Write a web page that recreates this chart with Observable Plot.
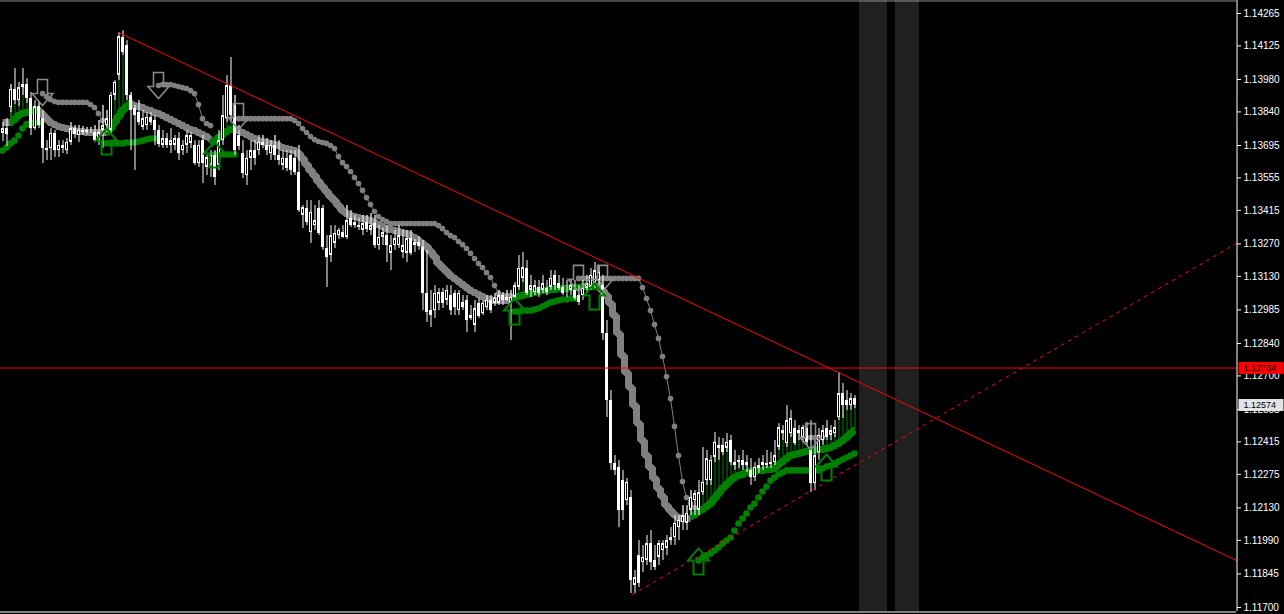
<!DOCTYPE html>
<html><head><meta charset="utf-8">
<script src="https://cdn.jsdelivr.net/npm/d3@7"></script>
<script src="https://cdn.jsdelivr.net/npm/@observablehq/plot@0.6"></script>
<style>
html,body{margin:0;padding:0;background:#000;overflow:hidden}
#chart svg{display:block}
</style></head><body><div id="chart"></div>
<script>
// Prices are stored as points above 1.10000 (1 point = 0.00001)
const BASE = 1.1, PT = 1e-5;

const open = [3747,3768,3859,3937,3889,3945,3958,3898,3768,3863,3811,3682,3682,3747,3673,3695,3673,3708,3768,3738,3760,3751,3760,3751,3716,3760,3781,3760,3911,3998,4161,4127,3911,3855,3837,3773,3781,3816,3803,3760,3695,3725,3695,3695,3725,3673,3695,3704,3695,3617,3716,3600,3609,3652,3609,3716,3811,3954,3868,3738,3660,3565,3639,3673,3673,3708,3695,3660,3695,3652,3609,3639,3652,3639,3578,3393,3423,3319,3349,3423,3423,3250,3220,3272,3306,3319,3298,3380,3362,3349,3328,3362,3328,3358,3263,3298,3306,3229,3263,3263,3233,3229,3293,3263,3276,3255,3056,2982,2982,3013,3060,3026,3047,3056,2982,3017,3026,2961,2918,3013,2969,2995,3026,3013,3013,3047,3026,3013,3039,3082,3121,3164,3069,3060,3082,3069,3078,3082,3134,3099,3082,3056,3069,3069,3047,3047,3078,3082,3099,3112,3090,2883,2594,2322,2305,2248,2162,2175,1795,1924,1894,1903,1976,1903,1916,1946,1955,1989,2002,2045,2067,2063,2119,2162,2119,2196,2248,2248,2348,2400,2400,2387,2421,2326,2326,2335,2313,2292,2261,2300,2313,2322,2317,2326,2391,2451,2408,2451,2473,2451,2430,2473,2378,2235,2369,2421,2473,2443,2451,2520,2624,2594,2572,2602];
const high = [3794,3811,3958,4027,3967,4027,3984,3924,3889,3881,3846,3716,3768,3760,3716,3716,3725,3794,3781,3781,3777,3773,3773,3781,3803,3868,3846,3924,3976,4183,4191,4148,3924,3868,3889,3846,3837,3837,3824,3781,3760,3747,3768,3738,3751,3716,3760,3751,3716,3716,3738,3652,3673,3673,3760,3911,3997,4075,3911,3781,3716,3673,3716,3716,3738,3738,3725,3716,3738,3716,3673,3673,3673,3673,3695,3436,3457,3457,3436,3457,3436,3306,3349,3349,3337,3349,3436,3414,3393,3380,3393,3393,3401,3393,3349,3337,3349,3306,3328,3349,3328,3328,3328,3289,3302,3285,3242,3069,3090,3078,3078,3090,3090,3069,3069,3047,3047,3004,3026,3035,3026,3047,3047,3056,3069,3060,3069,3069,3103,3220,3233,3198,3134,3112,3112,3134,3112,3155,3155,3134,3121,3112,3112,3112,3090,3112,3134,3164,3190,3177,3134,2939,2637,2356,2335,2292,2257,2205,1860,1989,1968,2011,2032,1968,1989,1989,2011,2045,2097,2097,2140,2140,2205,2205,2248,2391,2378,2356,2456,2434,2430,2451,2443,2378,2356,2378,2356,2343,2326,2343,2356,2378,2369,2421,2494,2486,2572,2551,2507,2486,2486,2499,2507,2421,2473,2486,2507,2486,2507,2715,2667,2637,2624,2615];
const low = [3712,3691,3837,3872,3863,3911,3876,3738,3760,3768,3617,3630,3630,3643,3643,3660,3656,3695,3725,3708,3738,3742,3747,3708,3695,3682,3751,3747,3889,3976,4084,3889,3673,3587,3781,3760,3760,3781,3695,3686,3682,3682,3660,3673,3630,3652,3660,3682,3609,3600,3531,3565,3557,3522,3587,3695,3794,3803,3652,3673,3552,3522,3587,3609,3652,3682,3652,3630,3630,3609,3587,3582,3565,3565,3406,3337,3349,3272,3328,3306,3242,3082,3190,3250,3289,3293,3289,3341,3337,3328,3306,3319,3306,3250,3242,3263,3190,3155,3242,3250,3207,3190,3220,3233,3242,2982,2931,2909,2948,2982,2991,3004,2961,2961,2961,2982,2887,2939,2887,2948,2961,2982,2969,3000,3004,3004,3021,2853,3026,3069,3103,3047,3039,3047,3039,3056,3047,3069,3069,3069,3047,3039,3047,3026,3004,3026,3056,3069,3078,3090,2853,2520,2292,2270,2045,2076,2140,1760,1760,1786,1851,1881,1860,1860,1881,1903,1924,1968,1968,1989,2032,2032,2097,2097,2097,2184,2227,2227,2326,2335,2356,2369,2313,2292,2300,2292,2283,2227,2244,2279,2292,2300,2300,2313,2378,2421,2391,2434,2400,2421,2413,2400,2197,2205,2335,2400,2421,2421,2434,2507,2516,2551,2551,2559];
const close = [3768,3742,3937,3889,3945,3958,3898,3768,3863,3781,3682,3673,3747,3673,3695,3682,3708,3768,3742,3760,3751,3760,3764,3716,3751,3781,3811,3911,3967,4165,4097,3911,3846,3824,3794,3811,3816,3794,3760,3699,3725,3695,3716,3725,3660,3695,3738,3738,3617,3695,3617,3643,3652,3557,3716,3824,3954,3824,3673,3691,3574,3639,3673,3639,3708,3695,3673,3695,3652,3630,3639,3596,3587,3578,3414,3427,3362,3406,3371,3315,3255,3211,3306,3315,3328,3298,3371,3349,3349,3341,3358,3332,3349,3263,3298,3319,3263,3263,3293,3306,3263,3293,3229,3276,3259,3056,2974,2961,3056,3060,3013,3069,2982,2995,3056,2995,2939,2948,2991,2957,3013,3026,2982,3035,3047,3026,3039,3039,3090,3164,3168,3056,3090,3090,3056,3099,3060,3121,3090,3078,3056,3060,3090,3035,3017,3078,3099,3134,3155,3147,2883,2594,2322,2292,2119,2119,2240,1817,1829,1804,1916,1976,1894,1873,1976,1976,1989,2002,2063,2076,2097,2106,2175,2192,2196,2240,2343,2335,2413,2387,2369,2413,2326,2313,2335,2313,2326,2261,2305,2313,2326,2313,2326,2356,2477,2464,2507,2516,2408,2464,2477,2413,2235,2356,2443,2464,2434,2464,2477,2624,2572,2572,2602,2574];

// Indicator lines: [first bar index, values]
const fastGray = [
  [0, [3794,3794,3794]],
  [9, [3846,3829,3811,3794,3786,3777,3773,3768,3764,3760,3755,3755,3751,3751,3751,3751,3751,3751]],
  [32, [3876,3868,3863,3859,3850,3846,3837,3833,3824,3816,3807,3799,3790,3781,3773,3764,3760,3751,3742,3734,3725]],
  [58, [3768,3760,3751,3742,3734,3725,3716,3712,3708,3704,3699,3695,3686,3682,3678,3673,3660,3639,3613,3587,3565,3539,3518,3496,3475,3457,3436,3414,3401,3393,3388,3384,3380,3375,3371,3362,3354,3345,3336,3332,3328,3324,3319,3315,3306,3298,3285,3272,3259,3237,3216,3185,3168,3151,3134,3121,3108,3095,3082,3069,3060,3052,3043,3034,3030,3026,3026,3026,3026,3026]],
  [149, [3095,3069,3047,3013,2961,2883,2788,2715,2650,2572,2495,2421,2356,2305,2257,2214,2179,2140,2119,2101,2089,2084,2084,2084]]
];
const fastGreen = [
  [2, [3794,3807,3824,3833,3837,3842,3846,3846]],
  [26, [3751,3768,3794,3820,3846,3863,3876]],
  [52, [3704,3716,3729,3742,3755,3764,3768]],
  [127, [3034,3039,3043,3047,3052,3056,3060,3065,3069,3069,3073,3073,3078,3078,3078,3082,3082,3082,3086,3086,3086,3086,3086]],
  [172, [2093,2101,2115,2123,2136,2149,2171,2192,2214,2231,2248,2261,2270,2274,2283,2287,2287,2292,2292,2296,2296,2300,2317,2330,2343,2356,2361,2365,2369,2374,2378,2378,2382,2382,2387,2391,2400,2408,2421,2434,2451,2464]]
];
const slowGray = [
  [10, [3919,3906,3894,3885,3881,3881,3881,3881,3881,3881,3881,3881,3872,3859,3833,3803]],
  [39, [3954,3958,3958,3958,3954,3950,3945,3941,3932,3919,3872,3811,3790,3781]],
  [59, [3811,3811,3811,3811,3811,3811,3811,3811,3811,3811,3811,3811,3811,3811,3803,3790,3768,3751,3734,3721,3712,3708,3704,3695,3682,3647,3621,3604,3583,3557,3531,3501,3470,3440,3410,3388,3375,3367,3358,3358,3358,3358,3358,3358,3358,3358,3358,3358,3358,3358,3349,3336,3319,3306,3298,3280,3267,3250,3229,3207,3185,3168,3146,3125,3090,3056,3047,3047,3047]],
  [144, [3121,3121,3121,3121,3121,3121,3121,3121,3121,3121,3121,3121,3121,3121,3121,3121,3082,3034,2982,2922,2862,2784,2697,2602,2482,2356,2244,2175,2149,2132]],
  [202, [2434,2434,2434,2434]]
];
const slowGreen = [
  [0, [3673,3686,3704,3716,3738,3768,3786,3790,3794,3794]],
  [26, [3704,3704,3704,3704,3704,3708,3708,3708,3712,3716,3721,3725,3725]],
  [53, [3656,3656,3656,3656,3656,3656]],
  [128, [2978,2978,2982,2982,2982,2987,2991,3000,3008,3017,3021,3026,3030,3030,3034,3034]],
  [174, [1903,1916,1925,1933,1946,1959,1976,1989,2002,2032,2063,2084,2106,2132,2149,2175,2201,2222,2248,2261,2274,2283,2292,2292,2292,2292,2292,2292]],
  [204, [2292,2300,2309,2313,2322,2330,2339,2348,2356,2365]]
];

// Signal arrows: [bar, price points]
const sellArrows = [[10,3924],[39,3954],[59,3820],[144,3121],[150,3121],[202,2438]];
const buyArrows = [[26,3712],[53,3656],[128,2978],[148,3043],[174,1899],[206,2304]];

// Drawn objects
const resistance = [[29,4183],[308.5,1903]];
const support = [[157.5,1756],[308.5,3272]];
const hLevel = 2734;     // 1.12734
const lastPrice = 2574;  // 1.12574
const sessionBands = [[214.25,221.25],[223.25,229.25]];
const yTicks = [1.14265,1.14125,1.13980,1.13840,1.13695,1.13555,1.13415,1.13270,1.13130,1.12985,1.12840,1.12700,1.12555,1.12415,1.12275,1.12130,1.11990,1.11845,1.11700];

const yDom = [1.116827, 1.143211];
const P = v => BASE + v * PT;

const bars = open.map((o, i) => ({i, o: P(o), h: P(high[i]), l: P(low[i]), c: P(close[i]), up: close[i] >= o}));
function segRows(segs, name) {
  const rows = [];
  segs.forEach(([s, vals], k) => vals.forEach((v, j) => rows.push({i: s + j, p: P(v), seg: name + k})));
  return rows;
}
const fGray = segRows(fastGray, "fg"), fGreen = segRows(fastGreen, "fG");
const sGray = segRows(slowGray, "sg"), sGreen = segRows(slowGreen, "sG");
const grayThin = fGray.filter(d => bars[d.i].h > d.p).map(d => ({i: d.i, a: d.p, b: bars[d.i].h}));
const greenThin = fGreen.filter(d => bars[d.i].c > d.p).map(d => ({i: d.i, a: d.p, b: bars[d.i].c}));

const downArrow = {draw(c){c.moveTo(-5,-13);c.lineTo(5,-13);c.lineTo(5,1);c.lineTo(10.5,1);c.lineTo(0,13);c.lineTo(-10.5,1);c.lineTo(-5,1);c.closePath();}};
const upArrow = {draw(c){c.moveTo(-5,13);c.lineTo(5,13);c.lineTo(5,-1);c.lineTo(10.5,-1);c.lineTo(0,-13);c.lineTo(-10.5,-1);c.lineTo(-5,-1);c.closePath();}};
const priceBox = {draw(c){c.moveTo(2,-6);c.lineTo(47,-6);c.lineTo(47,6);c.lineTo(2,6);c.closePath();}};

const plot = Plot.plot({
  width: 1284, height: 614,
  marginLeft: 0, marginRight: 48, marginTop: 0, marginBottom: 3,
  style: {background: "#000", color: "#fff", fontFamily: "'Liberation Sans', Arial, sans-serif", fontSize: "10px"},
  x: {domain: [-0.5, 308.5], axis: null},
  y: {domain: yDom, range: [611, 0]},
  marks: [
    Plot.rect(sessionBands, {x1: d => d[0], x2: d => d[1], fill: "#202020"}),
    Plot.ruleX(grayThin, {x: "i", y1: "a", y2: "b", stroke: "#808080", dx: 0.5}),
    Plot.ruleX(greenThin, {x: "i", y1: "a", y2: "b", stroke: "#008000", dx: 0.5}),
    Plot.line(fGray, {x: "i", y: "p", z: "seg", stroke: "#808080", strokeWidth: 7, curve: "step", strokeLinejoin: "miter", strokeLinecap: "butt"}),
    Plot.line(fGreen, {x: "i", y: "p", z: "seg", stroke: "#008000", strokeWidth: 7, curve: "step", strokeLinejoin: "miter", strokeLinecap: "butt"}),
    Plot.line(sGray, {x: "i", y: "p", z: "seg", stroke: "#808080", strokeWidth: 1}),
    Plot.dot(sGray, {x: "i", y: "p", r: 2.8, fill: "#808080"}),
    Plot.dot(sGreen, {x: "i", y: "p", r: 3.3, fill: "#008000"}),
    Plot.ruleX(bars, {x: "i", y1: "l", y2: "h", stroke: "#fff", dx: 0.5}),
    Plot.rect(bars.filter(d => d.up), {x1: d => d.i - 0.375, x2: d => d.i + 0.375, y1: "o", y2: "c", fill: "#000", stroke: "#fff", inset: 0.5, dx: 0.5}),
    Plot.rect(bars.filter(d => !d.up), {x1: d => d.i - 0.375, x2: d => d.i + 0.375, y1: "o", y2: "c", fill: "#fff", stroke: "#fff", inset: 0.5, dx: 0.5}),
    Plot.ruleY([P(hLevel)], {stroke: "#ff0000"}),
    Plot.line(resistance, {x: d => d[0], y: d => P(d[1]), stroke: "#ff0000", strokeWidth: 1}),
    Plot.line(support, {x: d => d[0], y: d => P(d[1]), stroke: "#ff0000", strokeWidth: 1, strokeDasharray: "3,5"}),
    Plot.dot(sellArrows, {x: d => d[0], y: d => P(d[1]), symbol: downArrow, fill: "none", stroke: "#8a8a8a", strokeWidth: 1.6}),
    Plot.dot(buyArrows, {x: d => d[0], y: d => P(d[1]), symbol: upArrow, fill: "none", stroke: "#008000", strokeWidth: 2}),
    Plot.ruleX([308.5], {stroke: "#fff", dx: 0.5}),
    Plot.ruleY([yDom[0]], {stroke: "#fff", dy: 0.5}),
    Plot.ruleY([yDom[1]], {stroke: "#909090", dy: 0.5}),
    Plot.axisY(yTicks, {anchor: "right", tickSize: 4, tickPadding: 3, tickFormat: d => d.toFixed(5), stroke: "#fff", fill: "#fff"}),
    Plot.dot([P(hLevel)], {y: d => d, frameAnchor: "right", symbol: priceBox, fill: "#ff0000", stroke: "none"}),
    Plot.text([P(hLevel)], {y: d => d, frameAnchor: "right", text: d => d.toFixed(5), dx: 7, textAnchor: "start", fill: "#000", fontSize: 9}),
    Plot.dot([P(lastPrice)], {y: d => d, frameAnchor: "right", symbol: priceBox, fill: "#e4e4e4", stroke: "none"}),
    Plot.text([P(lastPrice)], {y: d => d, frameAnchor: "right", text: d => d.toFixed(5), dx: 7, textAnchor: "start", fill: "#000", fontSize: 9})
  ]
});
document.getElementById("chart").appendChild(plot);
</script>
</body></html>
